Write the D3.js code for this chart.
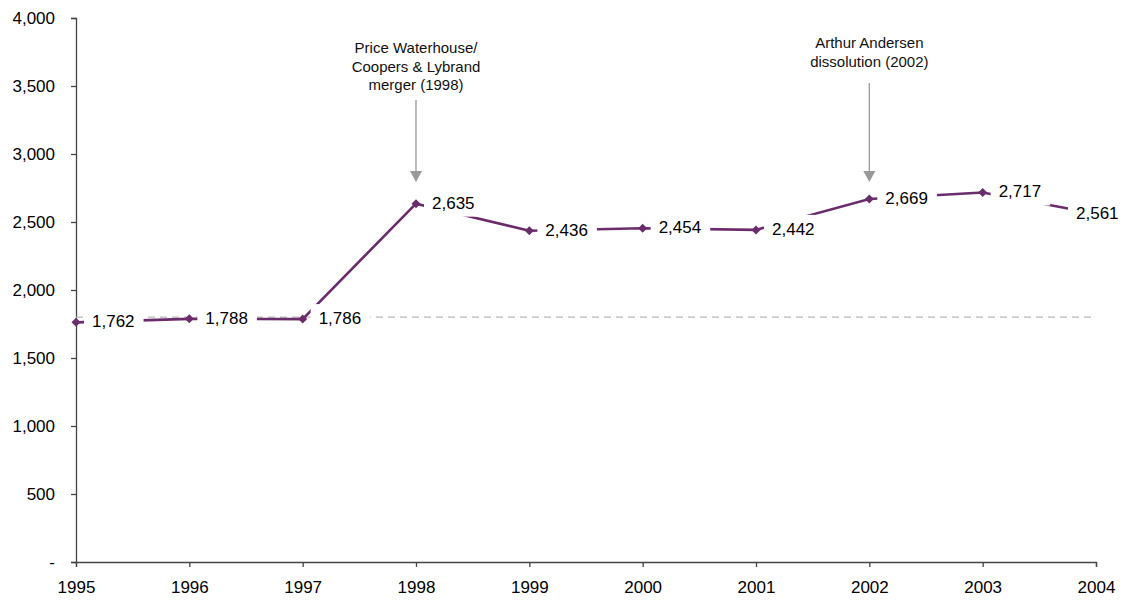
<!DOCTYPE html>
<html>
<head>
<meta charset="utf-8">
<script src="https://cdn.jsdelivr.net/npm/d3@7"></script>
<style>
  body { margin: 0; background: #fff; }
  svg { font-family: "Liberation Sans", Arial, sans-serif; }
</style>
</head>
<body>
<div class="chart"></div>
<script>
"use strict";

// data
const years = [1995, 1996, 1997, 1998, 1999, 2000, 2001, 2002, 2003, 2004];
const counts = [1762, 1788, 1786, 2635, 2436, 2454, 2442, 2669, 2717, 2561];
const yTicks = [0, 500, 1000, 1500, 2000, 2500, 3000, 3500, 4000];
const refValue = 1800;
const notes = [
  { year: 1998, lines: ["Price Waterhouse/", "Coopers & Lybrand", "merger (1998)"] },
  { year: 2002, lines: ["Arthur Andersen", "dissolution (2002)"] }
];

const width = 1130, height = 601;
const margin = { top: 18, right: 34, bottom: 39, left: 76 };

const svg = d3.select(".chart").append("svg")
  .attr("width", width)
  .attr("height", height);

const x = d3.scaleLinear()
  .domain([1995, 2004])
  .range([margin.left, width - margin.right]);
const y = d3.scaleLinear()
  .domain([0, 4000])
  .range([height - margin.bottom, margin.top]);

const fmt = d3.format(",");

// axes
const yAxis = svg.append("g")
  .attr("transform", "translate(" + margin.left + ",0)")
  .call(d3.axisLeft(y).tickValues(yTicks).tickSize(5).tickPadding(16)
    .tickFormat(d => d === 0 ? "-" : fmt(d)));
const xAxis = svg.append("g")
  .attr("transform", "translate(0," + y(0) + ")")
  .call(d3.axisBottom(x).tickValues(years).tickSize(5).tickPadding(14)
    .tickFormat(d3.format("d")));
[yAxis, xAxis].forEach(a => {
  a.select(".domain").attr("stroke", "#444").attr("stroke-width", 1.3);
  a.selectAll(".tick line").attr("stroke", "#444").attr("stroke-width", 1.3);
  a.selectAll("text").attr("fill", "#000").style("font-size", "17px")
    .style("font-family", "'Liberation Sans', Arial, sans-serif");
});
yAxis.selectAll("text").attr("dy", "0.35em");

// dashed reference line
svg.append("line")
  .attr("x1", x(1995)).attr("x2", x(2004))
  .attr("y1", y(refValue)).attr("y2", y(refValue))
  .attr("stroke", "#b8b8b8")
  .attr("stroke-width", 1.3)
  .attr("stroke-dasharray", "7,5");

const pts = years.map((d, i) => ({ year: d, value: counts[i] }));
const purple = "#6b2c6b";

svg.append("path")
  .datum(pts)
  .attr("fill", "none")
  .attr("stroke", purple)
  .attr("stroke-width", 2.6)
  .attr("d", d3.line().x(d => x(d.year)).y(d => y(d.value)));

svg.selectAll("path.marker")
  .data(pts)
  .enter().append("path")
  .attr("class", "marker")
  .attr("fill", purple)
  .attr("transform", d => "translate(" + x(d.year) + "," + y(d.value) + ")")
  .attr("d", "M0,-4.5L4.5,0L0,4.5L-4.5,0Z");

// data labels on white boxes
const lab = svg.selectAll("g.lab")
  .data(pts)
  .enter().append("g")
  .attr("class", "lab")
  .attr("transform", d => "translate(" + x(d.year) + "," + y(d.value) + ")");
lab.append("text")
  .attr("x", d => d.year === 2004 ? -20 : 16)
  .attr("y", 5)
  .style("font-size", "17px")
  .text(d => fmt(d.value));
lab.each(function () {
  const g = d3.select(this);
  const bb = g.select("text").node().getBBox();
  g.insert("rect", "text")
    .attr("x", bb.x - 8)
    .attr("y", -15)
    .attr("width", bb.width + 17)
    .attr("height", 28)
    .attr("fill", "#fff");
});

// annotations with arrows
const note = svg.selectAll("g.note")
  .data(notes)
  .enter().append("g")
  .attr("class", "note")
  .attr("transform", d => "translate(" + x(d.year) + ",0)");
note.append("text")
  .attr("text-anchor", "middle")
  .style("font-size", "15px")
  .attr("fill", "#111")
  .each(function (d) {
    const t = d3.select(this);
    const top = d.lines.length === 3 ? 53 : 48;
    d.lines.forEach((s, i) => {
      t.append("tspan").attr("x", 0).attr("y", top + i * 18.5).text(s);
    });
  });
note.append("line")
  .attr("x1", 0).attr("x2", 0)
  .attr("y1", d => d.lines.length === 3 ? 100 : 83)
  .attr("y2", 172)
  .attr("stroke", "#999")
  .attr("stroke-width", 1.3);
note.append("path")
  .attr("d", "M-6,171L6,171L0,182Z")
  .attr("fill", "#999");
</script>
</body>
</html>
